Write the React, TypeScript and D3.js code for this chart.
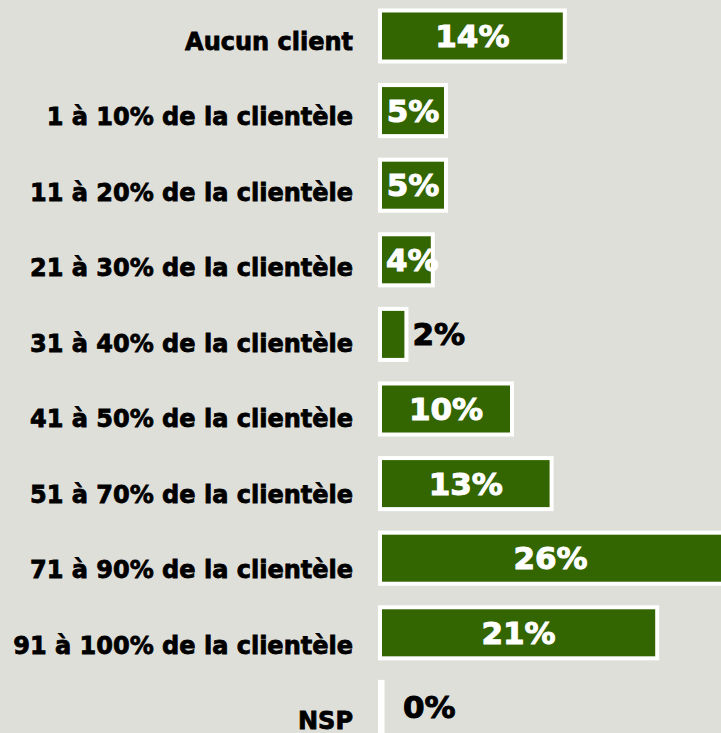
import { useMemo } from "react";
import * as d3 from "d3";

const WIDTH = 721;
const HEIGHT = 733;

// categories (top to bottom) and their shares in %
const categories = [
  "Aucun client",
  "1 à 10% de la clientèle",
  "11 à 20% de la clientèle",
  "21 à 30% de la clientèle",
  "31 à 40% de la clientèle",
  "41 à 50% de la clientèle",
  "51 à 70% de la clientèle",
  "71 à 90% de la clientèle",
  "91 à 100% de la clientèle",
  "NSP",
];
const values = [14, 5, 5, 4, 2, 10, 13, 26, 21, 0];

const BG = "#dfdfda";
const GREEN = "#336600";
const FONT = "'DejaVu Sans', Verdana, sans-serif";

export default function App() {
  // x : 1% = 13.2px, bars start right after the labels
  const xScale = useMemo(
    () => d3.scaleLinear().domain([0, 26]).range([380, 723.2]),
    []
  );

  // one band per category, step ~74.6px
  const yScale = useMemo(
    () =>
      d3
        .scaleBand()
        .domain(categories)
        .range([-1.3, -1.3 + 74.6 * categories.length])
        .paddingInner(0.316)
        .paddingOuter(0.158),
    []
  );

  // labels on the left sit a little lower than the bars
  const labelY = useMemo(
    () => d3.scalePoint().domain(categories).range([42, 721]),
    []
  );

  const bars = categories.map((c, i) => {
    const v = values[i];
    const x0 = xScale(0);
    const x1 = xScale(v);
    const y = yScale(c)!;
    const h = yScale.bandwidth();
    const cy = y + h / 2;
    const label = `${v}%`;
    const textW = label.length * 0.8 * 31; // rough width of the label
    let tx: number;
    let anchor: "middle" | "start" = "middle";
    let fill = "white";
    if (v < 3) {
      tx = Math.max(x1 + 6, x0 + 23);
      anchor = "start";
      fill = "black";
    } else if (textW > x1 - x0 - 4) {
      tx = x0 + 6;
      anchor = "start";
    } else {
      tx = (x0 + Math.min(x1, WIDTH)) / 2;
    }
    return (
      <g key={c}>
        <rect
          x={x0}
          y={y}
          width={Math.max(x1 - x0, 2.5)}
          height={h}
          fill={GREEN}
          stroke="white"
          strokeWidth={4}
        />
        <text
          x={tx}
          y={cy}
          textAnchor={anchor}
          dominantBaseline="central"
          fontSize={31}
          fontWeight="bold"
          fill={fill}
          stroke={fill}
          strokeWidth={1}
        >
          {label}
        </text>
      </g>
    );
  });

  const labels = categories.map((c) => (
    <text
      key={c}
      x={353}
      y={labelY(c)}
      textAnchor="end"
      dominantBaseline="central"
      fontSize={24}
      fontWeight="bold"
      fill="black"
      stroke="black"
      strokeWidth={0.8}
    >
      {c}
    </text>
  ));

  return (
    <div style={{ position: "absolute", left: 0, top: 0 }}>
      <svg width={WIDTH} height={HEIGHT} style={{ display: "block", fontFamily: FONT }}>
        <rect width={WIDTH} height={HEIGHT} fill={BG} />
        {labels}
        {bars}
      </svg>
    </div>
  );
}
